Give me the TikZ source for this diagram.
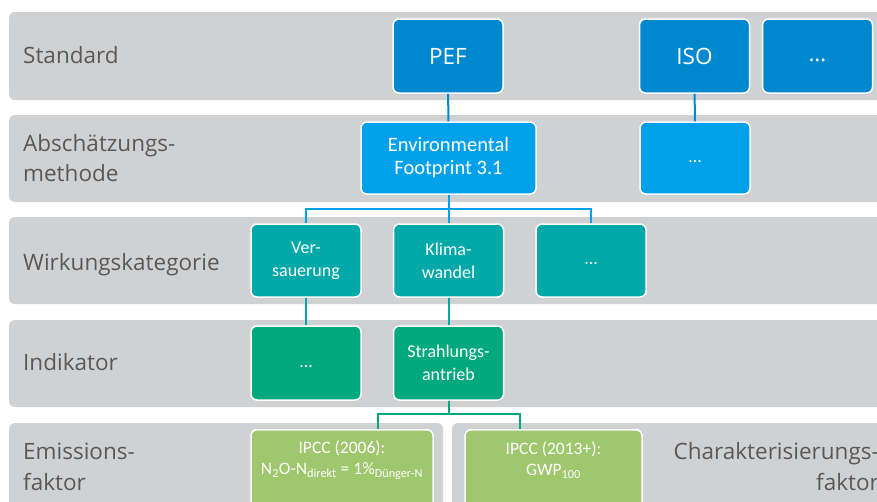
\documentclass[tikz,border=0pt]{standalone}
\usepackage{fontspec}
\setmainfont{Open Sans}
\newfontfamily\boxfont{Carlito}
\usetikzlibrary{calc}
\definecolor{bandgray}{RGB}{208,209,211}
\definecolor{labelgray}{RGB}{89,89,89}
\definecolor{stdblue}{RGB}{0,136,206}
\definecolor{methblue}{RGB}{0,160,235}
\definecolor{wteal}{RGB}{0,168,168}
\definecolor{indgreen}{RGB}{0,168,126}
\definecolor{efgreen}{RGB}{158,199,110}
\begin{document}
\begin{tikzpicture}[x=1pt,y=-1pt,
  band/.style={fill=bandgray, rounded corners=6pt},
  lbl/.style={text=labelgray, font=\fontsize{22.5}{30}\selectfont, inner sep=0pt, align=left},
  box/.style={draw=white, line width=1.5pt, rounded corners=6pt, inner sep=0pt, text=white, align=center, font=\boxfont\fontsize{18}{23}\selectfont},
  stdbox/.style={box, fill=stdblue, minimum width=110pt, minimum height=74pt, font=\fontsize{22.5}{26}\selectfont},
  methbox/.style={box, fill=methblue, minimum height=72pt},
  wbox/.style={box, fill=wteal, minimum width=110pt, minimum height=73pt},
  ibox/.style={box, fill=indgreen, minimum width=110pt, minimum height=74pt},
  efbox/.style={box, fill=efgreen, minimum height=91pt, anchor=north},
  boxtext/.style={text=white, align=center, inner sep=0pt, font=\boxfont\fontsize{17.5}{21}\selectfont},
  conn/.style={line width=2pt},
  stdline/.style={conn, draw=stdblue},
  methline/.style={conn, draw=methblue},
  tealline/.style={conn, draw=wteal},
  greenline/.style={conn, draw=indgreen}
]
\useasboundingbox (0,0) rectangle (877,501);
\clip (0,0) rectangle (877,501);
\fill[white] (0,0) rectangle (877,501);
% bands
\fill[band] (9,12) rectangle (900,100);
\fill[band] (9,115) rectangle (900,202);
\fill[band] (9,217) rectangle (900,304);
\fill[band] (9,320) rectangle (900,407);
\fill[band] (9,423) rectangle (443,530);
\fill[band] (452,423) rectangle (900,530);
% labels
\node[lbl, anchor=base west] (lstd) at (23,63) {Standard};
\node[lbl, anchor=west] (lmeth) at (23,158) {Abschätzungs-\\methode};
\node[lbl, anchor=base west] (lwirk) at (23,270) {Wirkungskategorie};
\node[lbl, anchor=base west] (lind) at (23,370) {Indikator};
\node[lbl, anchor=west, font=\fontsize{22.5}{31}\selectfont] (lem) at (23,467) {Emissions-\\faktor};
\node[lbl, anchor=east, align=right, font=\fontsize{22.5}{31}\selectfont] (lchar) at (879,467) {Charakterisierungs-\\faktor};
% standard row
\node[stdbox] (pef) at (448,56) {PEF};
\node[stdbox] (iso) at (694.5,56) {ISO};
\node[stdbox] (sdots) at (817.5,56) {\vphantom{a}…};
% method row
\node[methbox, minimum width=175pt] (ef) at (448.5,158) {\fontsize{20.5}{24}\selectfont Environmental\\\fontsize{20.5}{24}\selectfont Footprint 3.1};
\node[methbox, minimum width=110pt] (adots) at (695,158) {\vphantom{a}…};
% impact category row
\node[wbox] (vers) at (306,260.5) {Ver-\\sauerung};
\node[wbox] (klima) at (448.5,260.5) {Klima-\\wandel};
\node[wbox] (wdots) at (591,260.5) {\vphantom{a}…};
% indicator row
\node[ibox] (idots) at (306,363) {\vphantom{a}…};
\node[ibox] (strahl) at (448.5,363) {Strahlungs-\\antrieb};
% factor row
\node[efbox, minimum width=182pt] (ipcc1) at (342,429) {};
\node[efbox, minimum width=177pt] (ipcc2) at (553.5,429) {};
\node[boxtext] (ipcc1t) at ($(ipcc1.north)+(0,31)$) {IPCC (2006):\\N\textsubscript{2}O-N\textsubscript{direkt} = 1\%\textsubscript{Dünger-N}};
\node[boxtext] (ipcc2t) at ($(ipcc2.north)+(0,31)$) {IPCC (2013+):\\GWP\textsubscript{100}};
% connectors
\draw[stdline] (pef) -- (ef);
\draw[stdline] (iso) -- (adots);
\draw[methline] (ef) -- (klima);
\draw[methline] (vers.north) -- ++(0,-14) -| (wdots.north);
\draw[tealline] (vers) -- (idots);
\draw[tealline] (klima) -- (strahl);
\draw[greenline] (strahl.south) -- ++(0,13) coordinate (gb);
\draw[greenline] ($(ipcc1.north)+(36,0)$) |- (gb) -| ($(ipcc2.north)+(-33.5,0)$);
\end{tikzpicture}
\end{document}
